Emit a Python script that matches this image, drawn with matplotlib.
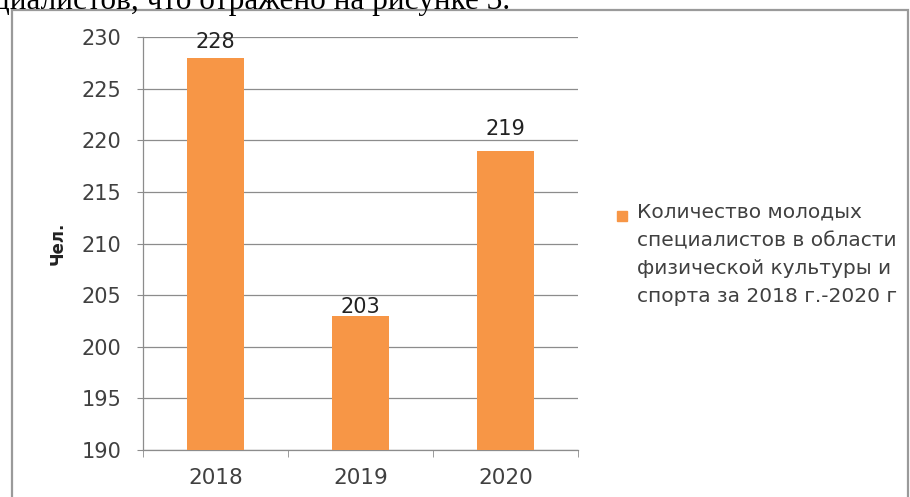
import matplotlib.pyplot as plt
from matplotlib.patches import Rectangle
import numpy as np

years = ["2018", "2019", "2020"]
counts = [228, 203, 219]
yticks = [190, 195, 200, 205, 210, 215, 220, 225, 230]
legend_text = ("Количество молодых\nспециалистов в области\n"
               "физической культуры и\nспорта за 2018 г.-2020 г")
caption_tail = "циалистов, что отражено на рисунке 3."

bar_color = "#F79646"
text_color = "#404040"
grid_color = "#8c8c8c"
# gap between each value label and its bar, in points
label_gaps = [7, 2.2, 11.5]

plt.rcParams['font.family'] = ['DejaVu Sans']

fig = plt.figure(figsize=(9.1, 4.97), dpi=100)
fig.patch.set_facecolor("white")

# page text above the chart frame
fig.text(-0.008, 0.982, caption_tail, fontsize=22.5, family="Liberation Serif",
         ha="left", va="baseline", color="black")

# chart frame
fig.patches.append(Rectangle((12 / 910, -0.02), 896 / 910, 1 - 10 / 497 + 0.02,
                             transform=fig.transFigure, fill=False,
                             edgecolor="#9a9a9a", linewidth=1.6))

ax = fig.add_axes([143 / 910, 1 - 450 / 497, (578 - 143) / 910, (450 - 37) / 497])
x = np.arange(len(years))
bars = ax.bar(x, counts, width=0.39, color=bar_color, zorder=3)

for b, v, gap in zip(bars, counts, label_gaps):
    ax.annotate(str(v), (b.get_x() + b.get_width() / 2, v), xytext=(0, gap),
                textcoords="offset points", ha="center", va="baseline",
                fontsize=15, color="#222222", zorder=4)

ax.set_ylim(190, 230)
ax.set_xlim(-0.5, 2.5)
ax.set_yticks(yticks)
ax.set_yticklabels([str(t) for t in yticks], fontsize=15, color=text_color)
ax.yaxis.grid(True, color=grid_color, linewidth=0.9, zorder=0)
ax.set_xticks(x)
ax.set_xticklabels(years, fontsize=15.5, color=text_color)
ax.tick_params(axis="x", length=0, pad=13)
ax.set_xticks([-0.5, 0.5, 1.5, 2.5], minor=True)
ax.tick_params(axis="x", which="minor", length=5, color=grid_color)
ax.tick_params(axis="y", length=4.5, color=grid_color, pad=11)

for side in ["top", "right"]:
    ax.spines[side].set_visible(False)
for side in ["left", "bottom"]:
    ax.spines[side].set_color(grid_color)
    ax.spines[side].set_linewidth(0.9)

fig.text(58 / 910, 1 - 243 / 497, "Чел.", rotation=90, fontsize=12,
         fontweight="bold", color="#222222", ha="center", va="center")

# legend: square marker level with the first line of a wrapped label
fig.patches.append(Rectangle((617 / 910, 1 - 221 / 497), 10 / 910, 10 / 497,
                             transform=fig.transFigure, color=bar_color))
fig.text(637 / 910, 1 - 203 / 497, legend_text, fontsize=14.5, color=text_color,
         ha="left", va="top", linespacing=1.6)

fig.savefig("out.png", dpi=100, facecolor="white")
